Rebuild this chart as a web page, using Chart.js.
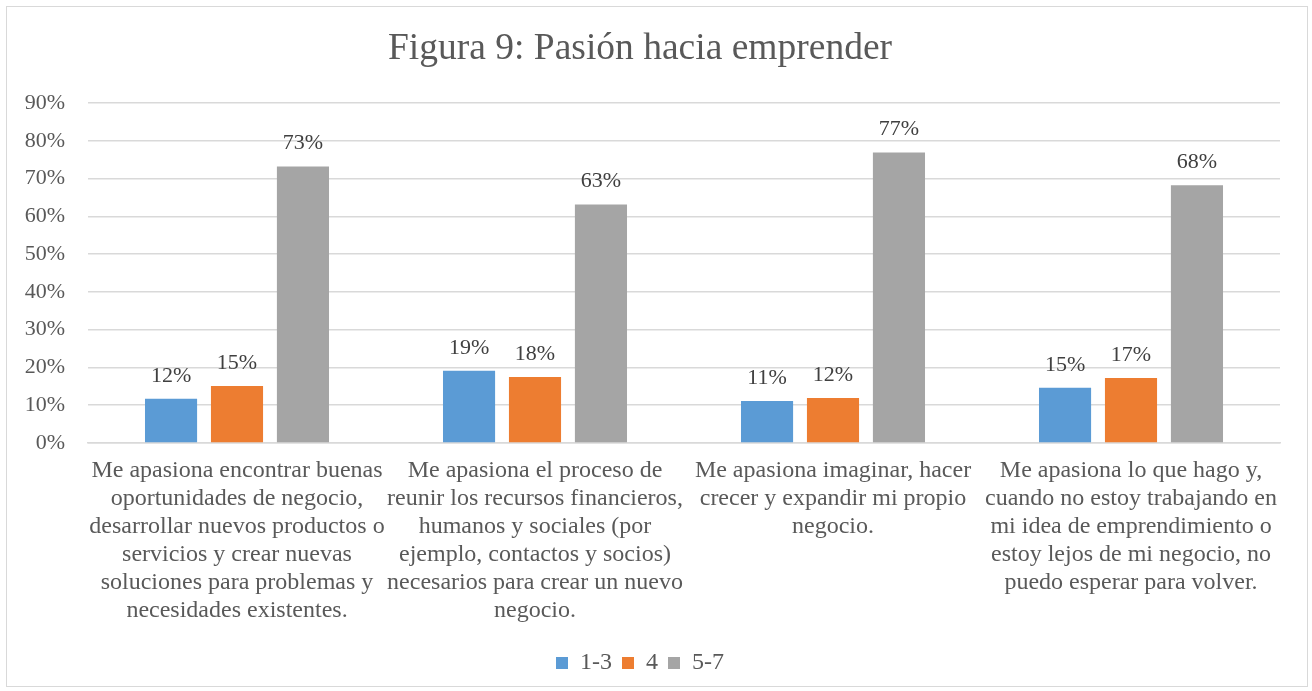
<!DOCTYPE html>
<html>
<head>
<meta charset="utf-8">
<script src="https://cdn.jsdelivr.net/npm/chart.js@4.4.0/dist/chart.umd.min.js"></script>
<style>
  html, body { margin: 0; padding: 0; background: #fff; }
  #wrap { position: absolute; left: 6px; top: 6px; width: 1300px; height: 679px;
          border: 1.5px solid #d9d9d9; }
  #chart { position: absolute; left: 0; top: 0; }
</style>
</head>
<body>
<div id="wrap"></div>
<canvas id="chart" width="1312" height="691"></canvas>
<script>
// ----------------------------
// Data
// ----------------------------
const categories = [
    ['Me apasiona encontrar buenas', 'oportunidades de negocio,', 'desarrollar nuevos productos o', 'servicios y crear nuevas', 'soluciones para problemas y', 'necesidades existentes.'],
    ['Me apasiona el proceso de', 'reunir los recursos financieros,', 'humanos y sociales (por', 'ejemplo, contactos y socios)', 'necesarios para crear un nuevo', 'negocio.'],
    ['Me apasiona imaginar, hacer', 'crecer y expandir mi propio', 'negocio.'],
    ['Me apasiona lo que hago y,', 'cuando no estoy trabajando en', 'mi idea de emprendimiento o', 'estoy lejos de mi negocio, no', 'puedo esperar para volver.']
];
const seriesNames = ['1-3', '4', '5-7'];
const low = [0.117, 0.191, 0.111, 0.146];
const mid = [0.151, 0.175, 0.119, 0.172];
const high = [0.732, 0.631, 0.769, 0.682];
const colors = ['#5B9BD5', '#ED7D31', '#A5A5A5'];

const FONT = "'Liberation Serif', 'Times New Roman', serif";

// ----------------------------
// Value labels above bars
// ----------------------------
const valueLabels = {
    id: 'valueLabels',
    afterDatasetsDraw(chart) {
        const ctx = chart.ctx;
        ctx.save();
        ctx.font = '22px ' + FONT;
        ctx.fillStyle = '#404040';
        ctx.textAlign = 'center';
        ctx.textBaseline = 'bottom';
        chart.data.datasets.forEach((ds, i) => {
            chart.getDatasetMeta(i).data.forEach((bar, j) => {
                const txt = Math.round(ds.data[j] * 100) + '%';
                ctx.fillText(txt, bar.x, bar.y - 12);
            });
        });
        ctx.restore();
    }
};

// ----------------------------
// Chart
// ----------------------------
new Chart(document.getElementById('chart'), {
    type: 'bar',
    data: {
        labels: categories,
        datasets: [
            { label: seriesNames[0], data: low, backgroundColor: colors[0] },
            { label: seriesNames[1], data: mid, backgroundColor: colors[1] },
            { label: seriesNames[2], data: high, backgroundColor: colors[2] }
        ]
    },
    options: {
        responsive: false,
        animation: false,
        categoryPercentage: 0.664,
        barPercentage: 0.79,
        layout: { padding: { left: 0, right: 32, top: 0, bottom: 6 } },
        plugins: {
            title: {
                display: true,
                text: 'Figura 9: Pasión hacia emprender',
                color: '#595959',
                font: { family: FONT, size: 37.5, weight: 'normal', lineHeight: 1.2 },
                padding: { top: 27, bottom: 31 }
            },
            legend: {
                position: 'bottom',
                labels: {
                    color: '#595959',
                    font: { family: FONT, size: 24 },
                    boxWidth: 12,
                    boxHeight: 12,
                    padding: 10
                }
            },
            tooltip: { enabled: false }
        },
        scales: {
            x: {
                afterFit(scale) { scale.height += 10; },
                grid: { display: false },
                border: { color: '#d9d9d9', width: 1.5 },
                ticks: {
                    color: '#595959',
                    font: { family: FONT, size: 24, lineHeight: 28 / 24 },
                    maxRotation: 0,
                    autoSkip: false,
                    padding: 6
                }
            },
            y: {
                min: 0,
                max: 0.9,
                afterFit(scale) { scale.width = 88; },
                grid: { color: '#d9d9d9', lineWidth: 1.5, drawTicks: false },
                border: { display: false },
                ticks: {
                    stepSize: 0.1,
                    padding: 23,
                    color: '#595959',
                    font: { family: FONT, size: 22 },
                    callback: v => Math.round(v * 100) + '%'
                }
            }
        }
    },
    plugins: [valueLabels]
});
</script>
</body>
</html>
